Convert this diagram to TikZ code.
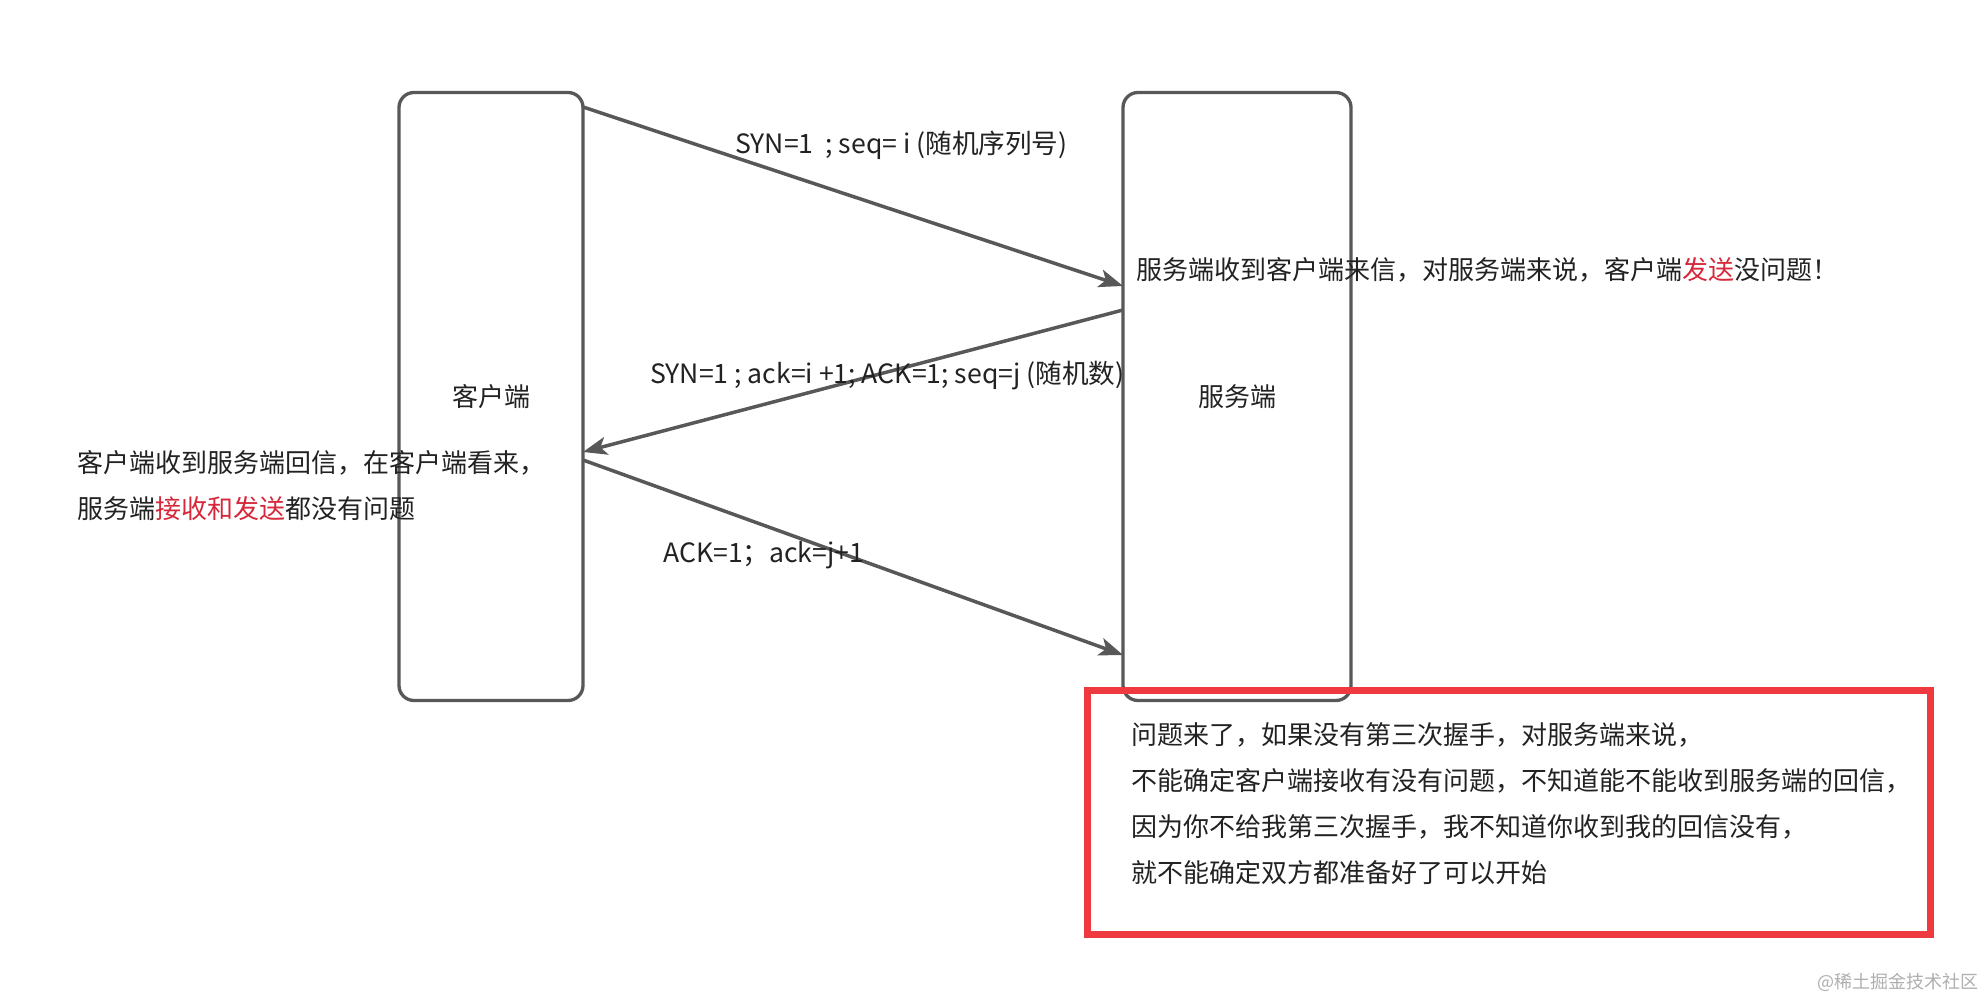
\documentclass[tikz,border=0pt]{standalone}
\usepackage{fontspec}
\setmainfont{Noto Sans CJK SC}
\usepackage{tikz}
\usetikzlibrary{positioning}
\usetikzlibrary{arrows.meta}
\definecolor{linegray}{RGB}{88,88,88}
\definecolor{txtgray}{RGB}{34,34,34}
\definecolor{boxred}{RGB}{238,58,62}
\definecolor{hired}{RGB}{214,40,58}
\definecolor{markgray}{RGB}{175,175,175}

\begin{document}
\begin{tikzpicture}[x=1pt, y=-1pt,
    side/.style={draw=linegray, line width=3.3pt, rounded corners=15pt, outer sep=0pt,
      minimum height=608pt, text=txtgray, font=\fontsize{26}{26}\selectfont},
    msg/.style={draw=linegray, line width=3.5pt, -{Stealth[length=24pt, width=18pt, inset=6pt]}},
    lbl/.style={inner sep=0pt, anchor=west, text=txtgray, font=\fontsize{26}{26}\selectfont},
    msglbl/.style={lbl, font=\fontsize{26.6}{26}\selectfont},
    note/.style={lbl, align=left, font=\fontsize{26}{46}\selectfont},
  ]
    \useasboundingbox (0,0) rectangle (1985,1000);
    \fill[white] (0,0) rectangle (1985,1000);

    \node[side, minimum width=184pt] (client) at (491,396.5) {客户端};
    \node[side, minimum width=228pt, right=540pt of client] (server) {服务端};

    \draw[msg] ([yshift=-14.5pt]client.north east) -- ([yshift=-193.5pt]server.north west);
    \draw[msg] ([yshift=-217.5pt]server.north west) -- ([yshift=-359.5pt]client.north east);
    \draw[msg] ([yshift=-367.5pt]client.north east) -- ([yshift=-562.5pt]server.north west);

    \node[msglbl] (syn) at (735,145) {SYN=1\ \ ; seq=\ i (随机序列号)};
    \node[msglbl] (synack) at (650,376) {SYN=1 ; ack=i +1; ACK=1; seq=j (随机数)};
    \node[msglbl] (ack) at (663,555) {ACK=1；ack=j+1};

    \node[lbl] (srvnote) at (1136,270) {服务端收到客户端来信，对服务端来说，客户端\textcolor{hired}{发送}没问题！};
    \node[note] (clinote) at (77,485.5) {客户端收到服务端回信，在客户端看来，\\服务端\textcolor{hired}{接收和发送}都没有问题};

    \node[draw=boxred, line width=7pt, outer sep=0pt, minimum width=843pt, minimum height=244pt] (problem) at (1508.5,812) {};
    \node[note] (probtext) at (1131,804) {问题来了，如果没有第三次握手，对服务端来说，\\不能确定客户端接收有没有问题，不知道能不能收到服务端的回信，\\因为你不给我第三次握手，我不知道你收到我的回信没有，\\就不能确定双方都准备好了可以开始};

    \node[inner sep=0pt, anchor=east, text=markgray, font=\fontsize{18}{18}\selectfont] (mark) at (1979,982) {@稀土掘金技术社区};
\end{tikzpicture}
\end{document}
